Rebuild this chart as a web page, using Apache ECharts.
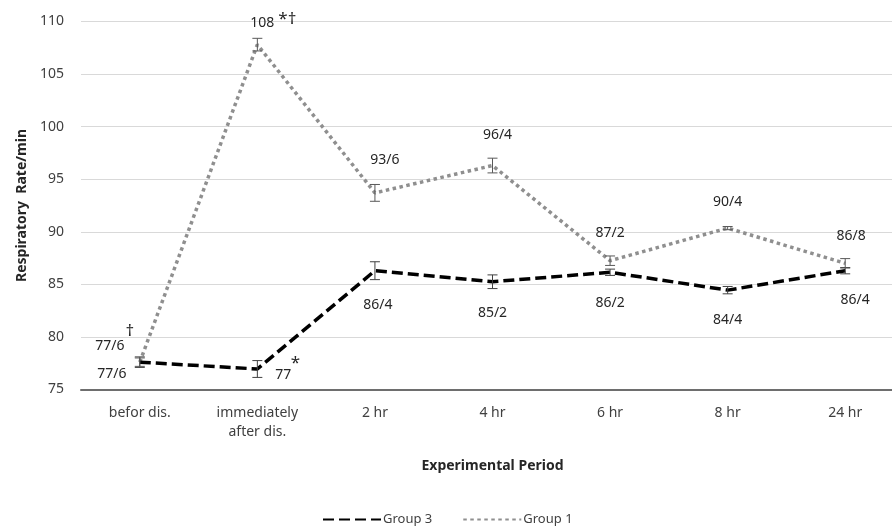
<!DOCTYPE html>
<html>
<head>
<meta charset="utf-8">
<script src="https://cdn.jsdelivr.net/npm/echarts@6/dist/echarts.min.js"></script>
<style>
html,body{margin:0;padding:0;background:#fff;}
#chart{width:892px;height:526px;}
</style>
</head>
<body>
<div id="chart"></div>
<script>
const categories = ['befor dis.', 'immediately\nafter dis.', '2 hr', '4 hr', '6 hr', '8 hr', '24 hr'];
const group3 = [77.6, 76.95, 86.3, 85.25, 86.15, 84.45, 86.3];
const group3Err = [0.5, 0.8, 0.85, 0.65, 0.3, 0.35, 0.3];
const group1 = [77.6, 107.8, 93.7, 96.3, 87.25, 90.35, 87.0];
const group1Err = [0.4, 0.6, 0.8, 0.7, 0.45, 0.15, 0.45];
const group3Labels = ['77/6', '77', '86/4', '85/2', '86/2', '84/4', '86/4'];
const group3Marks = ['', '*', '', '', '', '', ''];
const group1Labels = ['77/6', '108', '93/6', '96/4', '87/2', '90/4', '86/8'];
const group1Marks = ['\u2020', '*\u2020', '', '', '', '', ''];
const yTicks = [75, 80, 85, 90, 95, 100, 105, 110];

// label placement (pixel offsets from the data point), kept separate from data
const g1LabelOff = [[-30, -16], [5, -22], [10, -33], [5, -31], [0, -28], [0, -26], [6, -27]];
const g1MarkOff = [[-10, -31], [30, -25], [0, 0], [0, 0], [0, 0], [0, 0], [0, 0]];
const g3LabelOff = [[-28, 12], [26, 6], [3, 34], [0, 31], [0, 31], [0, 30], [10, 29]];
const g3MarkOff = [[0, 0], [38, -6], [0, 0], [0, 0], [0, 0], [0, 0], [0, 0]];

const FONT = 'Noto Sans';
const chart = echarts.init(document.getElementById('chart'), null, {renderer: 'canvas'});

function errSeries(name, vals, errs, color) {
  return {
    type: 'custom',
    name: name + ' err',
    data: vals.map((v, i) => [i, v - errs[i], v + errs[i]]),
    z: 5,
    silent: true,
    renderItem: function (params, api) {
      const x = api.value(0);
      const lo = api.coord([x, api.value(1)]);
      const hi = api.coord([x, api.value(2)]);
      const hw = 5;
      const st = {stroke: color, lineWidth: 1};
      return {
        type: 'group',
        children: [
          {type: 'line', shape: {x1: lo[0], y1: lo[1], x2: hi[0], y2: hi[1]}, style: st},
          {type: 'line', shape: {x1: lo[0] - hw, y1: lo[1], x2: lo[0] + hw, y2: lo[1]}, style: st},
          {type: 'line', shape: {x1: hi[0] - hw, y1: hi[1], x2: hi[0] + hw, y2: hi[1]}, style: st}
        ]
      };
    }
  };
}

function labelSeries(name, vals, labels, marks, lOff, mOff) {
  return {
    type: 'custom',
    name: name + ' labels',
    data: vals.map((v, i) => [i, v]),
    z: 10,
    silent: true,
    renderItem: function (params, api) {
      const i = params.dataIndex;
      const p = api.coord([api.value(0), api.value(1)]);
      const children = [{
        type: 'text',
        style: {
          text: labels[i], x: p[0] + lOff[i][0], y: p[1] + lOff[i][1],
          align: 'center', verticalAlign: 'middle',
          fill: '#262626', font: '14px "' + FONT + '"'
        }
      }];
      if (marks[i]) {
        children.push({
          type: 'text',
          style: {
            text: marks[i], x: p[0] + mOff[i][0], y: p[1] + mOff[i][1],
            align: 'center', verticalAlign: 'middle',
            fill: '#262626', font: '17px "' + FONT + '"'
          }
        });
      }
      return {type: 'group', children: children};
    }
  };
}

const option = {
  animation: false,
  backgroundColor: '#ffffff',
  grid: {left: 81, top: 21.5, right: -12, height: 368, containLabel: false, outerBoundsMode: 'none'},
  legend: {
    data: ['Group 3', 'Group 1'],
    left: 322, top: 513, padding: 0,
    itemWidth: 58, itemHeight: 12, itemGap: 30,
    itemStyle: {opacity: 0},
    textStyle: {fontFamily: FONT, fontSize: 13, color: '#404040', padding: [0, 0, 0, -3]}
  },
  xAxis: {
    type: 'category',
    data: categories,
    boundaryGap: true,
    name: 'Experimental Period',
    nameLocation: 'middle',
    nameGap: 70,
    nameTextStyle: {fontFamily: FONT, fontSize: 14, fontWeight: 'bold', color: '#262626'},
    axisLine: {lineStyle: {color: '#6e6e6e', width: 2}},
    axisTick: {show: false},
    axisLabel: {fontFamily: FONT, fontSize: 14, color: '#404040', margin: 14, lineHeight: 19, interval: 0},
    splitLine: {show: false}
  },
  yAxis: {
    type: 'value',
    min: yTicks[0], max: yTicks[yTicks.length - 1], interval: 5,
    name: 'Respiratory  Rate/min',
    nameLocation: 'middle',
    nameGap: 52,
    nameTextStyle: {fontFamily: FONT, fontSize: 14, fontWeight: 'bold', color: '#262626'},
    axisLine: {show: false},
    axisTick: {show: false},
    axisLabel: {fontFamily: FONT, fontSize: 14, color: '#404040', margin: 17},
    splitLine: {lineStyle: {color: '#d9d9d9', width: 1}}
  },
  series: [
    {
      type: 'line', name: 'Group 3', data: group3, symbol: 'none', z: 4,
      lineStyle: {color: '#000000', width: 3.5, type: [11, 5]},
      itemStyle: {color: '#000000'}
    },
    {
      type: 'line', name: 'Group 1', data: group1, symbol: 'none', z: 3,
      lineStyle: {color: '#8f8f8f', width: 3.5, type: [3.5, 3.5]},
      itemStyle: {color: '#8f8f8f'}
    },
    errSeries('Group 3', group3, group3Err, '#404040'),
    errSeries('Group 1', group1, group1Err, '#595959'),
    labelSeries('Group 3', group3, group3Labels, group3Marks, g3LabelOff, g3MarkOff),
    labelSeries('Group 1', group1, group1Labels, group1Marks, g1LabelOff, g1MarkOff)
  ]
};
chart.setOption(option);
</script>
</body>
</html>
